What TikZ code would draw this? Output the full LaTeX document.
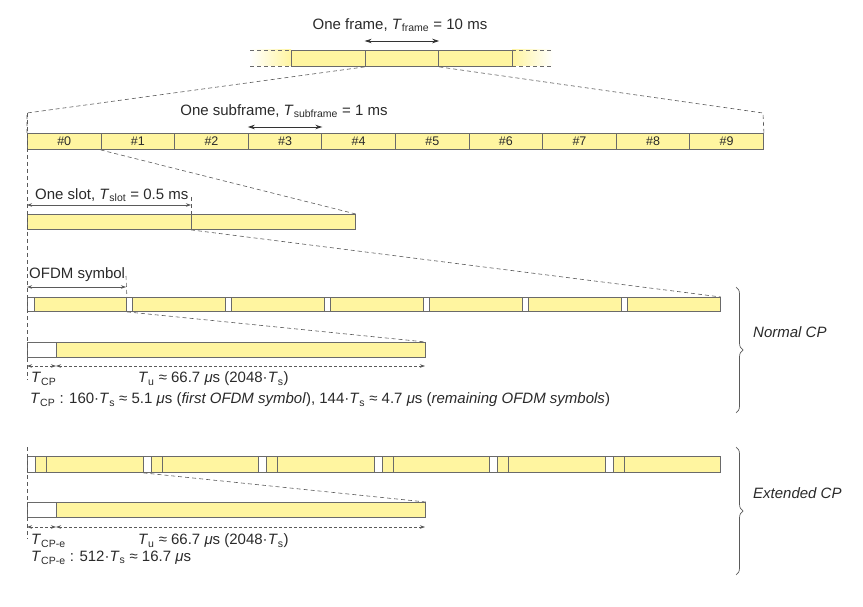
\documentclass[tikz,border=0pt]{standalone}
\usepackage{fontspec}
\setmainfont{Liberation Sans}
\usetikzlibrary{arrows.meta,decorations.pathreplacing,calc}
\definecolor{cellyellow}{HTML}{FFF5A0}
\definecolor{edgegray}{HTML}{6A6A6A}
\definecolor{dashgray}{HTML}{5A5A5A}
\definecolor{textgray}{HTML}{2A2A2A}
\newcommand\Tx[1]{\textit{T}\textsubscript{#1}}
\newcommand\mus{\textit{μ}s}
\tikzset{
  cell/.style={draw=edgegray, fill=cellyellow, line width=0.9pt, inner sep=0pt, anchor=north west},
  cpcell/.style={draw=edgegray, fill=white, line width=0.9pt, inner sep=0pt, anchor=north west},
  zoomline/.style={draw=dashgray, dashed, dash pattern=on 4pt off 3pt, line width=0.6pt},
  lbl/.style={inner sep=0pt, anchor=west},
  blackarrow/.style={{Stealth[length=7pt,width=4.5pt]}-{Stealth[length=7pt,width=4.5pt]}, line width=0.8pt, black!80},
  grayarrow/.style={{Stealth[length=5pt,width=3.5pt]}-{Stealth[length=5pt,width=3.5pt]}, line width=0.6pt, dashgray},
  dimarrow/.style={{Stealth[length=5pt,width=3.5pt]}-{Stealth[length=5pt,width=3.5pt]}, line width=0.6pt, dashgray, dashed, dash pattern=on 3pt off 2pt},
  bracestyle/.style={decorate, decoration={brace, amplitude=7pt}, line width=0.7pt, dashgray},
}
\begin{document}
\begin{tikzpicture}[x=1pt,y=-1pt,font=\fontsize{15}{18}\selectfont, text=textgray]
\useasboundingbox (0,0) rectangle (863,607);

% ---------- frame ----------
\shade[left color=white, right color=cellyellow] (250,50) rectangle (291,66);
\shade[left color=cellyellow, right color=white] (512,50) rectangle (553,66);
\draw[zoomline, edgegray] (250,50) -- (291,50) (250,66) -- (291,66);
\draw[zoomline, edgegray] (512,50) -- (553,50) (512,66) -- (553,66);
\foreach \i in {1,2,3}
  \node[cell, minimum width=73.67pt, minimum height=16pt] (fr\i) at ({291+73.67*(\i-1)},50) {};
\node (frlbl) at (400,25) {One frame, \Tx{frame} = 10 ms};
\coordinate (fra) at ($(fr2.north west)+(0,-9)$);
\coordinate (frb) at ($(fr2.north east)+(0,-9)$);
\draw[blackarrow] (fra) -- (frb);

% ---------- subframes ----------
\foreach \i in {0,...,9}
  \node[cell, minimum width=73.6pt, minimum height=16pt, font=\fontsize{12.5}{14}\selectfont] (sf\i) at ({27+73.6*\i},133) {\#\i};
\node (sflbl) at (284,111) {One subframe, \Tx{subframe} = 1 ms};
\coordinate (sfa) at ($(sf3.north west)+(0,-6)$);
\coordinate (sfb) at ($(sf3.north east)+(0,-6)$);
\draw[blackarrow] (sfa) -- (sfb);

\coordinate (zl) at (27,113);
\coordinate (zr) at (763,113);
\draw[zoomline] (fr2.south west) -- (zl) -- (sf0.north west);
\draw[zoomline] (fr2.south east) -- (zr) -- (sf9.north east);

% ---------- slots ----------
\node[cell, minimum width=164pt, minimum height=15pt] (sl1) at (27,214) {};
\node[cell, minimum width=164pt, minimum height=15pt] (sl2) at (191,214) {};
\draw[zoomline] (sf1.south west) -- (sl2.north east);
\node[lbl] (sllbl) at (35,195) {One slot, \Tx{slot} = 0.5 ms};
\coordinate (sltick) at (191,197);
\draw[zoomline] (sltick) -- (sl2.north west);
\coordinate (sla) at (27,205);
\coordinate (slb) at (191,205);
\draw[grayarrow] (sla) -- (slb);

% ---------- OFDM symbols, normal CP ----------
\foreach \i in {1,...,7}{
  \pgfmathsetmacro{\s}{27+99*(\i-1)}
  \pgfmathsetmacro{\w}{ifthenelse(\i==1,7,6)}
  \pgfmathsetmacro{\dw}{99-\w}
  \node[cpcell, minimum width=\w pt, minimum height=14pt] (ncp\i) at (\s,297) {};
  \node[cell, minimum width=\dw pt, minimum height=14pt] (nd\i) at ({\s+\w},297) {};
}
\draw[zoomline] (sl2.south west) -- (nd7.north east);
\node[lbl] (symlbl) at (29,275) {OFDM symbol};
\coordinate (symtick) at (126,276);
\draw[zoomline] (symtick) -- (nd1.north east);
\coordinate (syma) at (27,287);
\coordinate (symb) at (126,287);
\draw[grayarrow] (syma) -- (symb);

% expanded normal symbol
\node[cpcell, minimum width=29pt, minimum height=15pt] (xcp) at (27,342) {};
\node[cell, minimum width=369pt, minimum height=15pt] (xd) at (56,342) {};
\draw[zoomline] (nd1.south east) -- (xd.north east);
\coordinate (xa) at (27,366);
\coordinate (xb) at (56,366);
\coordinate (xc) at (425,366);
\draw[dimarrow] (xa) -- (xb);
\draw[dimarrow] (xb) -- (xc);
\node[lbl] (tcp) at (31,379) {\Tx{CP}};
\node[lbl] (tu) at (138,379) {\Tx{u} ≈ 66.7 \mus{} (2048·\Tx{s})};
\node[lbl] (tcpline) at (30,400) {\Tx{CP} : 160·\Tx{s} ≈ 5.1 \mus{} (\textit{first OFDM symbol}), 144·\Tx{s} ≈ 4.7 \mus{} (\textit{remaining OFDM symbols})};
\coordinate (vtop) at (27,113);
\coordinate (vbot) at (27,380);
\draw[zoomline] (vtop) -- (vbot);

\coordinate (nbt) at (736,287);
\coordinate (nbb) at (736,413);
\draw[bracestyle] (nbt) -- (nbb);
\node[lbl, font=\fontsize{15}{18}\selectfont\itshape] (ncp) at (753,332) {Normal CP};

% ---------- OFDM symbols, extended CP ----------
\foreach \i in {1,...,6}{
  \pgfmathsetmacro{\s}{27+115.5*(\i-1)}
  \node[cpcell, minimum width=8pt, minimum height=16pt] (ecp\i) at (\s,456) {};
  \node[cell, minimum width=11pt, minimum height=16pt] (eb\i) at ({\s+8},456) {};
  \node[cell, minimum width=96.5pt, minimum height=16pt] (ed\i) at ({\s+19},456) {};
}
\node[cpcell, minimum width=29pt, minimum height=15pt] (ycp) at (27,502) {};
\node[cell, minimum width=369pt, minimum height=15pt] (yd) at (56,502) {};
\draw[zoomline] (ed1.south east) -- (yd.north east);
\coordinate (ya) at (27,527);
\coordinate (yb) at (56,527);
\coordinate (yc) at (425,527);
\draw[dimarrow] (ya) -- (yb);
\draw[dimarrow] (yb) -- (yc);
\node[lbl] (tcpe) at (31,541) {\Tx{CP-e}};
\node[lbl] (tue) at (138,541) {\Tx{u} ≈ 66.7 \mus{} (2048·\Tx{s})};
\node[lbl] (tcpeline) at (31,558) {\Tx{CP-e} : 512·\Tx{s} ≈ 16.7 \mus};
\coordinate (etop) at (27,447);
\coordinate (ebot) at (27,539);
\draw[zoomline] (etop) -- (ebot);

\coordinate (ebt) at (736,447);
\coordinate (ebb) at (736,575);
\draw[bracestyle] (ebt) -- (ebb);
\node[lbl, font=\fontsize{15}{18}\selectfont\itshape] (ecplbl) at (753,493) {Extended CP};
\end{tikzpicture}
\end{document}
